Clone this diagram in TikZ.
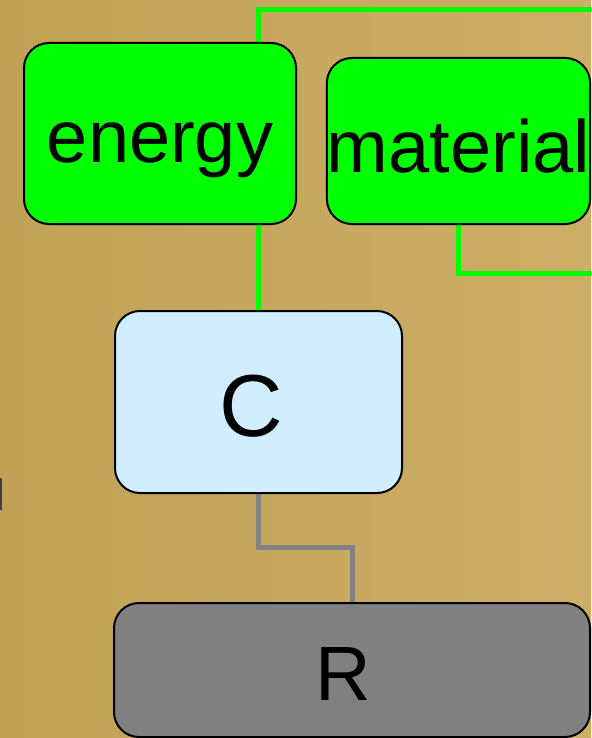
\documentclass[tikz,border=0pt]{standalone}
\usepackage{fontspec}
\setmainfont{Liberation Sans}
\usetikzlibrary{positioning}
\definecolor{bgdark}{RGB}{192,162,86}
\definecolor{bglight}{RGB}{205,174,104}
\definecolor{boxgreen}{RGB}{0,255,0}
\definecolor{boxblue}{RGB}{208,238,255}
\definecolor{boxgray}{RGB}{128,128,128}
\definecolor{linkgray}{RGB}{130,130,130}
\pgfdeclarelayer{bg}
\pgfdeclarelayer{links}
\pgfsetlayers{bg,links,main}
\tikzset{
  block/.style={draw=black, line width=2pt, rounded corners=25pt, inner sep=0pt, outer sep=0pt,
    text depth=0pt, font=\fontsize{74}{80}\selectfont},
  greenlink/.style={draw=boxgreen, line width=5pt},
  graylink/.style={draw=linkgray, line width=5pt}
}
\begin{document}
\begin{tikzpicture}[x=1pt,y=-1pt]
		\useasboundingbox (0,0) rectangle (591,738);
		\begin{pgfonlayer}{bg}
		\shade[left color=bgdark, right color=bglight] (0,0) rectangle (591,738);
		\fill[black!75] (0,478) rectangle (2,510);
		\end{pgfonlayer}
		
		% Define nodes
		\node[block, fill=boxgreen, minimum width=272pt, minimum height=181pt, text height=59pt] (energy) at (160,133.5) {energy};
		\node[block, fill=boxgreen, minimum width=263pt, minimum height=166pt, text height=62pt] (material) at (458.5,141) {material};
		\node[block, fill=boxblue, minimum width=287pt, minimum height=182pt, text height=68pt,
		      font=\fontsize{88}{96}\selectfont] (C) at (258.5,402) {\hspace*{-15pt}C};
		\node[block, fill=boxgray, minimum width=476pt, minimum height=134pt, text height=60pt,
		      font=\fontsize{77}{84}\selectfont] (R) at (352,670) {\hspace*{-18pt}R};
		\coordinate (toprt) at (591,9.5);
		\coordinate (matrt) at (591,273);
		\coordinate (bend) at (352,547);
		
		% Connect the nodes
		\begin{pgfonlayer}{links}
		\draw[greenlink] (C.north |- energy.north) |- (toprt);
		\draw[greenlink] (C.north) -- (C.north |- energy.south);
		\draw[greenlink] (material.south) |- (matrt);
		\draw[graylink] (C.south) |- (bend) -- (R.north);
		\end{pgfonlayer}
	\end{tikzpicture}
\end{document}
